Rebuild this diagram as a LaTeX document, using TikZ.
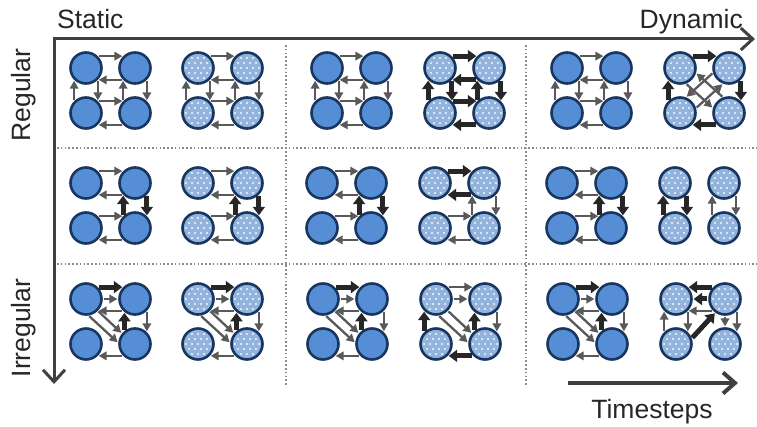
\documentclass[tikz,border=0pt]{standalone}
\usepackage{fontspec}
\setmainfont{Liberation Sans}
\usetikzlibrary{arrows.meta}

\definecolor{solidblue}{RGB}{85,142,213}
\definecolor{lightblue}{RGB}{146,179,220}
\definecolor{navyline}{RGB}{24,54,96}
\definecolor{arrgray}{RGB}{89,89,89}
\definecolor{arrblack}{RGB}{38,38,38}
\definecolor{axisgray}{RGB}{64,64,64}
\definecolor{sepgray}{RGB}{140,140,140}
\definecolor{labelgray}{RGB}{38,38,38}

% four nodes of one 2x2 cell: a = top left, b = top right, c = bottom left, d = bottom right
\newcommand{\cellgroup}[4]{%
  \node[#4] (#1-a) at (#2,#3) {};
  \node[#4] (#1-b) at ({#2+49},#3) {};
  \node[#4] (#1-c) at (#2,{#3+45}) {};
  \node[#4] (#1-d) at ({#2+49},{#3+45}) {};
}

\begin{document}
\begin{tikzpicture}[x=1pt,y=-1pt,
  basenode/.style={circle, minimum size=31pt, inner sep=0pt, draw=navyline, line width=2.6pt},
  solidnode/.style={basenode, fill=solidblue},
  dotnode/.style={basenode, fill=lightblue, path picture={
    \foreach \i in {-3,...,3}{\foreach \j in {-4,-2,0,2,4}{
      \fill[white, opacity=0.9] ([shift={(\i*6,\j*5)}]path picture bounding box.center) circle[radius=1.2pt];}}
    \foreach \i in {-3,...,2}{\foreach \j in {-3,-1,1,3}{
      \fill[white, opacity=0.9] ([shift={(\i*6+3,\j*5)}]path picture bounding box.center) circle[radius=1.2pt];}}
  }},
  ga/.style={draw=arrgray, line width=2.3pt, -{Triangle[length=8pt,width=8.5pt]}, shorten >=0.8pt, shorten <=0.8pt},
  ba/.style={draw=arrblack, line width=5pt, -{Triangle[length=8.5pt,width=12pt]}, shorten >=0.8pt, shorten <=0.8pt},
  axis/.style={draw=axisgray, line width=3pt, -{Straight Barb[length=12pt,width=22pt]}},
  sep/.style={draw=sepgray, line width=1.6pt, dash pattern=on 1.6pt off 2.2pt},
  lbl/.style={font=\fontsize{26.5}{31}\selectfont, text=labelgray, inner sep=0pt}
]
\useasboundingbox (0,0) rectangle (757,427);

% dotted separators of the 3x3 grid
\draw[sep] (57,148) -- (757,148);
\draw[sep] (57,264) -- (757,264);
\draw[sep] (286,45) -- (286,385);
\draw[sep] (526,45) -- (526,385);

% axes
\coordinate (xstart) at (52.5,39);
\coordinate (xend) at (755,39);
\coordinate (ystart) at (54,39);
\coordinate (yend) at (54,384);
\draw[axis] (xstart) -- (xend);
\draw[axis] (ystart) -- (yend);

\node[lbl, anchor=base west] (static) at (57,29) {Static};
\node[lbl, anchor=base east] (dynamic) at (743,29) {Dynamic};
\node[lbl, rotate=90] (regular) at (24,95) {Regular};
\node[lbl, rotate=90] (irregular) at (24,328) {Irregular};

% timestep arrow
\coordinate (tstart) at (568,383);
\coordinate (tend) at (738,383);
\draw[draw=axisgray, line width=4pt, -{Straight Barb[length=12pt,width=21pt]}] (tstart) -- (tend);
\node[lbl, anchor=base] (timesteps) at (652,418) {Timesteps};

% ---------- row 1 ----------
\cellgroup{r1a}{86}{68}{solidnode}
\cellgroup{r1b}{198}{68}{dotnode}
\cellgroup{r1c}{327}{68}{solidnode}
\cellgroup{r1d}{440}{68}{dotnode}
\cellgroup{r1e}{567}{68}{solidnode}
\cellgroup{r1f}{680}{68}{dotnode}

\foreach \g/\s in {r1a/ga, r1b/ga, r1c/ga, r1d/ba, r1e/ga}{
  \draw[\s] (\g-a.45) -- (\g-b.135);
  \draw[\s] (\g-b.-135) -- (\g-a.-45);
  \draw[\s] (\g-c.135) -- (\g-a.-135);
  \draw[\s] (\g-a.-45) -- (\g-c.45);
  \draw[\s] (\g-d.135) -- (\g-b.-135);
  \draw[\s] (\g-b.-45) -- (\g-d.45);
  \draw[\s] (\g-c.45) -- (\g-d.135);
  \draw[\s] (\g-d.-135) -- (\g-c.-45);
}
\draw[ga] (r1f-a.-69) -- (r1f-d.163);
\draw[ga] (r1f-d.111) -- (r1f-a.-17);
\draw[ga] (r1f-c.17) -- (r1f-b.-111);
\draw[ga] (r1f-b.197) -- (r1f-c.69);
\draw[ba] (r1f-a.45) -- (r1f-b.135);
\draw[ba] (r1f-b.-45) -- (r1f-d.45);
\draw[ba] (r1f-d.-135) -- (r1f-c.-45);
\draw[ba] (r1f-c.135) -- (r1f-a.-135);

% ---------- row 2 ----------
\cellgroup{r2a}{86}{183}{solidnode}
\cellgroup{r2b}{198}{183}{dotnode}
\cellgroup{r2c}{322}{183}{solidnode}
\cellgroup{r2d}{435}{183}{dotnode}
\cellgroup{r2e}{562}{183}{solidnode}
\cellgroup{r2f}{675}{183}{dotnode}

\foreach \g/\h/\v in {r2a/ga/ba, r2b/ga/ba, r2c/ga/ba, r2d/ba/ga, r2e/ga/ba}{
  \draw[\h] (\g-a.45) -- (\g-b.135);
  \draw[\h] (\g-b.-135) -- (\g-a.-45);
  \draw[ga] (\g-c.45) -- (\g-d.135);
  \draw[ga] (\g-d.-135) -- (\g-c.-45);
  \draw[\v] (\g-d.135) -- (\g-b.-135);
  \draw[\v] (\g-b.-45) -- (\g-d.45);
}
\draw[ba] (r2f-c.135) -- (r2f-a.-135);
\draw[ba] (r2f-a.-45) -- (r2f-c.45);
\draw[ga] (r2f-d.135) -- (r2f-b.-135);
\draw[ga] (r2f-b.-45) -- (r2f-d.45);

% ---------- row 3 ----------
\cellgroup{r3a}{86}{299}{solidnode}
\cellgroup{r3b}{198}{299}{dotnode}
\cellgroup{r3c}{323}{299}{solidnode}
\cellgroup{r3d}{436}{299}{dotnode}
\cellgroup{r3e}{563}{299}{solidnode}
\cellgroup{r3f}{676}{299}{dotnode}

\foreach \g in {r3a, r3b, r3c, r3e}{
  \draw[ga] (\g-a.0) -- (\g-b.180);
  \draw[ga] (\g-b.-135) -- (\g-a.-45);
  \draw[ga] (\g-a.-81) -- (\g-d.176);
  \draw[ga] (\g-a.-45) -- (\g-d.141);
  \draw[ga] (\g-b.-45) -- (\g-d.45);
  \draw[ga] (\g-d.-135) -- (\g-c.-45);
  \draw[ba] (\g-a.45) -- (\g-b.135);
  \draw[ba] (\g-d.129) -- (\g-b.-129);
}
\draw[ga] (r3d-a.45) -- (r3d-b.135);
\draw[ga] (r3d-a.0) -- (r3d-b.180);
\draw[ga] (r3d-a.-81) -- (r3d-d.176);
\draw[ga] (r3d-a.-45) -- (r3d-d.141);
\draw[ga] (r3d-b.-45) -- (r3d-d.45);
\draw[ba] (r3d-c.135) -- (r3d-a.-135);
\draw[ba] (r3d-d.129) -- (r3d-b.-129);
\draw[ba] (r3d-d.-135) -- (r3d-c.-45);

\draw[ga] (r3f-b.-135) -- (r3f-a.-45);
\draw[ga] (r3f-c.135) -- (r3f-a.-135);
\draw[ga] (r3f-a.-45) -- (r3f-c.45);
\draw[ga] (r3f-b.-90) -- (r3f-d.90);
\draw[ga] (r3f-b.-45) -- (r3f-d.45);
\draw[ba] (r3f-b.135) -- (r3f-a.45);
\draw[ba] (r3f-b.180) -- (r3f-a.0);
\draw[ba] (r3f-c.20) -- (r3f-b.235);
\end{tikzpicture}
\end{document}
